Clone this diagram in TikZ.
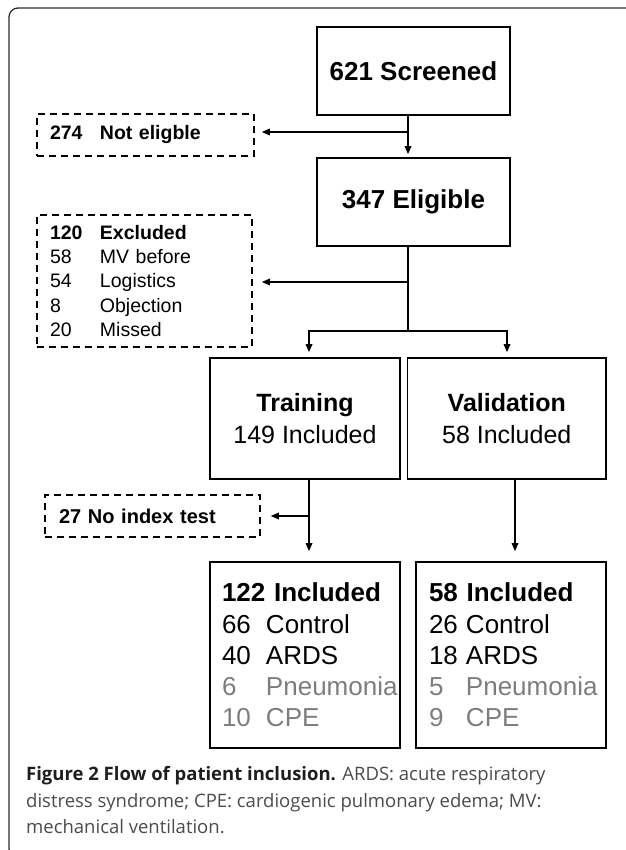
\documentclass[tikz,border=0pt]{standalone}
\usepackage{fontspec}
\setmainfont{Liberation Sans}
\newfontfamily\capfont{Open Sans}
\usetikzlibrary{arrows.meta}
\definecolor{dimtxt}{RGB}{125,125,125}
\definecolor{capbold}{RGB}{30,30,30}
\definecolor{captext}{RGB}{75,75,75}
\definecolor{framecol}{RGB}{45,45,45}
\begin{document}
\begin{tikzpicture}[x=1pt,y=-1pt,
  solidbox/.style={draw, line width=1.6pt, inner sep=0pt, align=center},
  dashbox/.style={draw, line width=1.5pt, dash pattern=on 7pt off 5pt, inner ysep=0pt, align=left},
  conn/.style={line width=1.6pt},
  arr/.style={conn, -{Triangle[length=8pt,width=6.5pt]}},
  captxt/.style={anchor=base west, inner sep=0pt, font=\capfont\fontsize{18.5}{27}\selectfont, text=captext}
  ]
\useasboundingbox (0,0) rectangle (625,850);
% frame
\draw[framecol, line width=1.3pt, rounded corners=9pt] (640,8) -- (9,8) -- (9,858) -- (640,858);

% main boxes
\node[solidbox, minimum width=193pt, minimum height=88pt, font=\fontsize{26}{30}\selectfont\bfseries] (scr) at (413.5,71) {621 Screened};
\node[solidbox, minimum width=193pt, minimum height=88pt, font=\fontsize{26}{30}\selectfont\bfseries] (elg) at (413.5,202) {347 Eligible};
\node[solidbox, minimum width=190pt, minimum height=121pt, font=\fontsize{25}{32}\selectfont] (trn) at (305,418.5) {\textbf{Training}\\149 Included};
\node[solidbox, minimum width=198.5pt, minimum height=121pt, font=\fontsize{25}{32}\selectfont] (val) at (506.75,418.5) {\textbf{Validation}\\58 Included};

% dashed side boxes
\node[dashbox, minimum width=217pt, minimum height=42pt, text width=191pt, inner xsep=13pt,
      font=\fontsize{19.5}{24}\selectfont\bfseries] (ne) at (145.5,135) {\makebox[50pt][l]{274}Not eligble};
\node[dashbox, minimum width=215pt, minimum height=132pt, text width=189pt, inner xsep=13pt,
      font=\fontsize{19.5}{24.3}\selectfont] (exc) at (144.5,281)
  {\textbf{\makebox[50pt][l]{120}Excluded}\\
   \makebox[50pt][l]{58}MV before\\
   \makebox[50pt][l]{54}Logistics\\
   \makebox[50pt][l]{8}Objection\\
   \makebox[50pt][l]{20}Missed};
\node[dashbox, minimum width=215pt, minimum height=42pt, text width=187pt, inner xsep=14pt,
      font=\fontsize{20}{24}\selectfont\bfseries] (nix) at (152.5,516) {27 No index test};

% result boxes
\node[draw, line width=1.6pt, inner ysep=0pt, inner xsep=12pt, text width=166pt, minimum height=186pt, align=left,
      font=\fontsize{26}{31.2}\selectfont] (lbl) at (305,655)
  {\textbf{122 Included}\\
   \makebox[44pt][l]{66}Control\\
   \makebox[44pt][l]{40}ARDS\\
   \textcolor{dimtxt}{\makebox[44pt][l]{6}Pneumonia}\\
   \textcolor{dimtxt}{\makebox[44pt][l]{10}CPE}};
\node[draw, line width=1.6pt, inner ysep=0pt, inner xsep=13pt, text width=164pt, minimum height=186pt, align=left,
      font=\fontsize{26}{31.2}\selectfont] (lbr) at (511,655)
  {\textbf{58 Included}\\
   \makebox[37pt][l]{26}Control\\
   \makebox[37pt][l]{18}ARDS\\
   \textcolor{dimtxt}{\makebox[37pt][l]{5}Pneumonia}\\
   \textcolor{dimtxt}{\makebox[37pt][l]{9}CPE}};

% connectors
\coordinate (j1) at (408,132);
\coordinate (j2) at (408,282);
\coordinate (j3) at (408,331);
\coordinate (jl) at (309,331);
\coordinate (jr) at (507,331);
\coordinate (k1) at (309,516);
\coordinate (k2) at (515,516);
\draw[arr, shorten >=3pt] (scr.south -| j1) -- (elg.north -| j1);
\draw[arr, shorten >=7pt] (j1) -- (j1 -| ne.east);
\draw[arr, shorten >=5pt] (elg.south -| j3) -- (j3) -| (trn.north -| jl);
\draw[arr, shorten >=5pt] (j3) -| (val.north -| jr);
\draw[arr, shorten >=9pt] (j2) -- (j2 -| exc.east);
\draw[arr, shorten >=10pt] (trn.south -| k1) -- (lbl.north -| k1);
\draw[arr, shorten >=10pt] (k1) -- (k1 -| nix.east);
\draw[arr, shorten >=10pt] (val.south -| k2) -- (lbr.north -| k2);

% caption
\node[captxt] (cap1) at (26,780) {\textcolor{capbold}{\bfseries Figure 2 Flow of patient inclusion.} ARDS: acute respiratory};
\node[captxt] (cap2) at (26,807) {distress syndrome; CPE: cardiogenic pulmonary edema; MV:};
\node[captxt] (cap3) at (26,833) {mechanical ventilation.};
\end{tikzpicture}
\end{document}
